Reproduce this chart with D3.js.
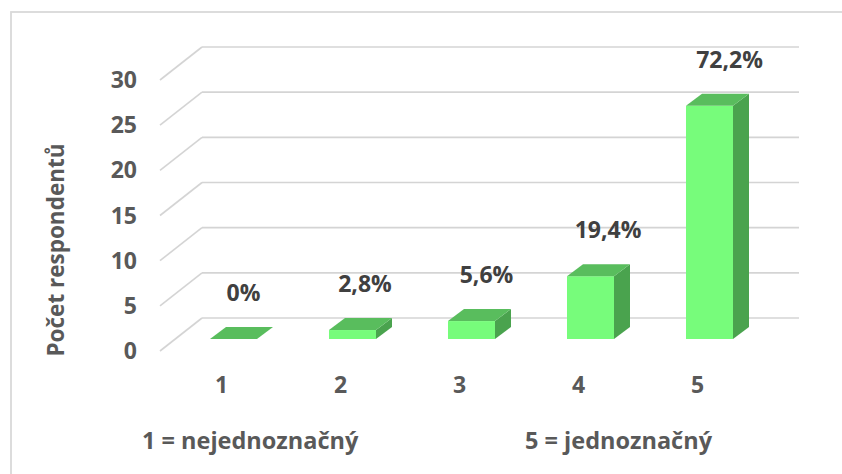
<!DOCTYPE html>
<html>
<head>
<meta charset="utf-8">
<script src="https://cdn.jsdelivr.net/npm/d3@7"></script>
<style>
  body { margin: 0; background: #fff; }
  text { font-family: "Open Sans", sans-serif; font-weight: 700; }
</style>
</head>
<body>
<div id="chart"></div>
<script>
// Data
var categories = ["1", "2", "3", "4", "5"];
var counts = [0, 1, 2, 7, 26];
var percentLabels = ["0%", "2,8%", "5,6%", "19,4%", "72,2%"];
var yTicks = [0, 5, 10, 15, 20, 25, 30];

var svgWidth = 842;
var svgHeight = 474;

// 3D offsets (depth of bars and of the side wall)
var depthX = 16, depthY = -12;
var wallX = -42, wallY = 33;

var svg = d3.select("#chart")
  .append("svg")
  .attr("width", svgWidth)
  .attr("height", svgHeight);

// chart border
svg.append("rect")
  .attr("x", 11)
  .attr("y", 12)
  .attr("width", 860)
  .attr("height", 500)
  .attr("fill", "none")
  .attr("stroke", "#d9d9d9")
  .attr("stroke-width", 1.8);

// scales
var xScale = d3.scaleBand()
  .domain(categories)
  .range([174, 769])
  .paddingInner(0.605)
  .paddingOuter(0.3025);

// front of the bars
var yScale = d3.scaleLinear().domain([0, 30]).range([339, 70]);
// back wall gridlines
var yBack = d3.scaleLinear().domain([0, 30]).range([318, 47]);

var wallLeft = 202, wallRight = 799;

// gridlines on back wall + side wall
var grid = svg.append("g");
grid.selectAll(".hline")
  .data(yTicks)
  .enter()
  .append("line")
  .attr("x1", wallLeft)
  .attr("x2", wallRight)
  .attr("y1", d => yBack(d))
  .attr("y2", d => yBack(d))
  .attr("stroke", "#d4d4d4")
  .attr("stroke-width", 1.6);

grid.selectAll(".dline")
  .data(yTicks)
  .enter()
  .append("line")
  .attr("x1", wallLeft)
  .attr("y1", d => yBack(d))
  .attr("x2", wallLeft + wallX)
  .attr("y2", d => yBack(d) + wallY)
  .attr("stroke", "#d4d4d4")
  .attr("stroke-width", 1.6);

// y tick labels
svg.append("g").selectAll("text")
  .data(yTicks)
  .enter()
  .append("text")
  .attr("x", 137)
  .attr("y", d => yBack(d) + wallY)
  .attr("dy", "0.35em")
  .attr("text-anchor", "end")
  .attr("font-size", "23px")
  .attr("fill", "#595959")
  .text(d => d);

// bars
var bars = svg.append("g").selectAll("g")
  .data(counts)
  .enter()
  .append("g");

var y0 = yScale(0);

bars.append("rect")
  .attr("x", (d, i) => xScale(categories[i]))
  .attr("y", d => yScale(d))
  .attr("width", xScale.bandwidth())
  .attr("height", d => y0 - yScale(d))
  .attr("fill", "#77fc7b");

// side face
bars.append("path")
  .attr("d", function(d, i) {
    var x1 = xScale(categories[i]) + xScale.bandwidth();
    var yt = yScale(d);
    return "M" + x1 + "," + yt +
      "L" + (x1 + depthX) + "," + (yt + depthY) +
      "L" + (x1 + depthX) + "," + (y0 + depthY) +
      "L" + x1 + "," + y0 + "Z";
  })
  .attr("fill", "#4aa34e");

// top face
bars.append("path")
  .attr("d", function(d, i) {
    var x0 = xScale(categories[i]);
    var x1 = x0 + xScale.bandwidth();
    var yt = yScale(d);
    return "M" + x0 + "," + yt +
      "L" + (x0 + depthX) + "," + (yt + depthY) +
      "L" + (x1 + depthX) + "," + (yt + depthY) +
      "L" + x1 + "," + yt + "Z";
  })
  .attr("fill", "#59bd5d");

// data labels (shifted right a bit more the further right, perspective)
function labelX(i) {
  var cx = xScale(categories[i]) + xScale.bandwidth() / 2;
  return cx + 10 + 0.021 * (cx - 233);
}

svg.append("g").selectAll("text")
  .data(counts)
  .enter()
  .append("text")
  .attr("x", (d, i) => labelX(i))
  .attr("y", d => yScale(d) + depthY - 34)
  .attr("dy", "0.35em")
  .attr("text-anchor", "middle")
  .attr("font-size", "23px")
  .attr("fill", "#404040")
  .text((d, i) => percentLabels[i]);

// category labels
svg.append("g").selectAll("text")
  .data(categories)
  .enter()
  .append("text")
  .attr("x", d => xScale(d) + xScale.bandwidth() / 2 - 12)
  .attr("y", 385)
  .attr("dy", "0.35em")
  .attr("text-anchor", "middle")
  .attr("font-size", "23px")
  .attr("fill", "#595959")
  .text(d => d);

// y axis title
svg.append("text")
  .attr("transform", "translate(56, 250) rotate(-90)")
  .attr("dy", "0.35em")
  .attr("text-anchor", "middle")
  .attr("font-size", "22.5px")
  .attr("fill", "#595959")
  .text("Počet respondentů");

// scale notes
svg.append("text")
  .attr("x", 142)
  .attr("y", 449)
  .attr("font-size", "23.5px")
  .attr("fill", "#595959")
  .text("1 = nejednoznačný");

svg.append("text")
  .attr("x", 525)
  .attr("y", 449)
  .attr("font-size", "23.5px")
  .attr("fill", "#595959")
  .text("5 = jednoznačný");
</script>
</body>
</html>
